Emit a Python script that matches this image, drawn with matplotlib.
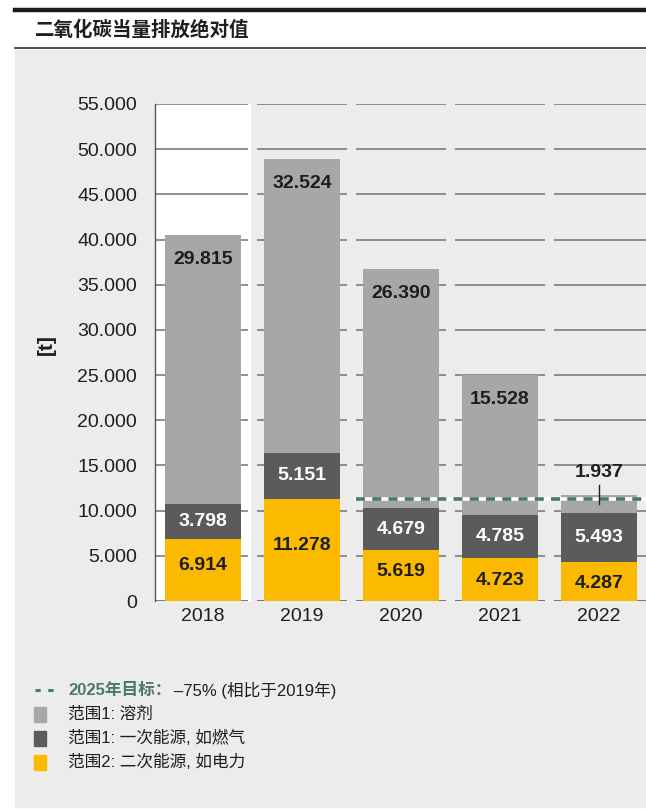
"""
CO2e absolute emissions, stacked by scope (2018-2022)
"""

import matplotlib

matplotlib.use("Agg")
import matplotlib.pyplot as plt
from matplotlib.lines import Line2D
from matplotlib.patches import Rectangle

plt.rcParams["font.family"] = ["Liberation Sans", "Noto Sans CJK SC"]

# data
years = ["2018", "2019", "2020", "2021", "2022"]
scope2_electricity = [6914, 11278, 5619, 4723, 4287]
scope1_energy = [3798, 5151, 4679, 4785, 5493]
scope1_solvents = [29815, 32524, 26390, 15528, 1937]
target_2025 = 11300
y_ticks = list(range(0, 55001, 5000))

title = "二氧化碳当量排放绝对值"
y_label = "[t]"
target_label = "2025年目标："
target_note = "–75% (相比于2019年)"
legend_labels = ["范围1: 溶剂", "范围1: 一次能源, 如燃气", "范围2: 二次能源, 如电力"]

# colours
BG = "#ebeceb"
GRAY = "#a6a7a6"
DARK = "#5b5b5b"
YELLOW = "#fbb900"
GREEN = "#4b7a60"
GRID = "#727272"
TXT = "#1e1e1e"

W, H = 646, 809
fig = plt.figure(figsize=(W / 100, H / 100), dpi=100)


def fx(px):
    return px / W


def fy(py):
    return 1 - py / H


def fmt(v):
    return f"{v:,.0f}".replace(",", ".")


# panel and header
fig.patches.append(
    Rectangle((fx(15), fy(807)), 1 - fx(15), fy(50) - fy(807),
              transform=fig.transFigure, color=BG, zorder=-5)
)
fig.add_artist(Line2D([fx(15), 1], [fy(10), fy(10)], color="#1a1a1a", lw=3.2))
fig.add_artist(Line2D([fx(15), 1], [fy(48), fy(48)], color="#333333", lw=1.2))
fig.text(fx(35), fy(30), title, fontsize=14, fontweight="bold", color=TXT,
         va="center", ha="left")

# axes
ax = fig.add_axes([fx(155), fy(601), 1 - fx(155), fy(104) - fy(601)])
ax.set_zorder(2)
ax.set_facecolor("none")
n = len(years)
xs = list(range(n))
xlim = (-0.485, n - 1 + 0.475)
ax.set_xlim(*xlim)
ax.set_ylim(0, 55000)

# white column behind the baseline year
ax.axvspan(xlim[0], 0.47, color="white", zorder=0)

# gridlines broken at the column boundaries
gap = 0.05
for yv in y_ticks:
    for i in xs:
        x0 = xlim[0] if i == 0 else i - 0.5 + gap
        x1 = xlim[1] if i == n - 1 else i + 0.5 - gap
        ax.plot([x0, x1], [yv, yv], color="#555555" if yv == 0 else GRID,
                lw=1.1, zorder=1, solid_capstyle="butt")

for s in ["top", "right", "bottom"]:
    ax.spines[s].set_visible(False)
ax.spines["left"].set_color("#555555")
ax.spines["left"].set_linewidth(1.0)

ax.set_yticks(y_ticks)
ax.set_yticklabels([fmt(v) for v in y_ticks])
ax.set_xticks(xs)
ax.set_xticklabels(years)
ax.tick_params(axis="y", length=0, pad=13, labelsize=14, labelcolor=TXT)
ax.tick_params(axis="x", length=0, pad=5, labelsize=14, labelcolor=TXT)

# stacked bars
bw = 0.77
b1 = scope2_electricity
b2 = [a + b for a, b in zip(b1, scope1_energy)]
tot = [a + b for a, b in zip(b2, scope1_solvents)]
ax.bar(xs, scope2_electricity, width=bw, color=YELLOW, zorder=3)
ax.bar(xs, scope1_energy, width=bw, bottom=b1, color=DARK, zorder=3)
ax.bar(xs, scope1_solvents, width=bw, bottom=b2, color=GRAY, zorder=3)

# 2025 target line
ax.plot([1.55, xlim[1]], [target_2025] * 2, color="white", lw=2.6, zorder=4)
ax.plot([1.55, xlim[1]], [target_2025] * 2, color=GREEN, lw=2.6, zorder=5,
        dashes=(2.5, 2))

# value labels
off = 2400
lab = dict(ha="center", va="center", fontsize=14, fontweight="bold", zorder=6)
for i in xs:
    ax.text(i, min(b1[i] / 2 + 500, b1[i] - off), fmt(scope2_electricity[i]),
            color=TXT, **lab)
    ax.text(i, (b1[i] + b2[i]) / 2, fmt(scope1_energy[i]), color="white", **lab)
    if scope1_solvents[i] > 4000:
        ax.text(i, tot[i] - off - 300, fmt(scope1_solvents[i]), color=TXT, **lab)
    else:
        mid = (b2[i] + tot[i]) / 2
        ax.plot([i, i], [mid, tot[i] + 1100], color=TXT, lw=1, zorder=6)
        ax.text(i, tot[i] + 2500, fmt(scope1_solvents[i]), color=TXT, **lab)

fig.text(fx(46), fy(345), y_label, rotation=90, fontsize=15, fontweight="bold",
         color=TXT, ha="center", va="center")

# legend
fig.add_artist(Line2D([fx(35), fx(55)], [fy(690), fy(690)], color=GREEN, lw=2.2,
                      dashes=(1.7, 2.5)))
fig.text(fx(68), fy(690), target_label, fontsize=12, fontweight="bold",
         color=GREEN, ha="left", va="center")
fig.text(fx(174), fy(690), target_note, fontsize=12, color=TXT, ha="left",
         va="center")
for k, (label, col) in enumerate(zip(legend_labels, [GRAY, DARK, YELLOW])):
    yc = 714 + 24 * k
    fig.patches.append(
        Rectangle((fx(34), fy(yc + 7.5)), fx(46) - fx(34), fy(yc - 7.5) - fy(yc + 7.5),
                  transform=fig.transFigure, color=col, zorder=2)
    )
    fig.text(fx(68), fy(yc), label, fontsize=12, color=TXT, ha="left",
             va="center")

fig.savefig("out.png", dpi=100)
